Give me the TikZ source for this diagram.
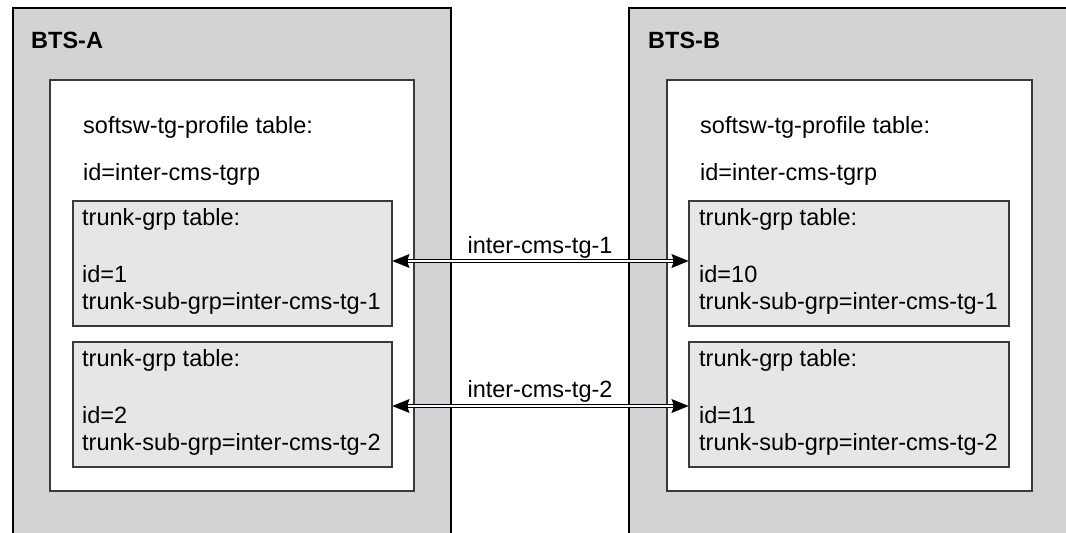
\documentclass[tikz,border=0pt]{standalone}
\usepackage{fontspec}
\setmainfont{Liberation Sans}
\usetikzlibrary{arrows.meta}
\definecolor{outergray}{HTML}{D2D3D5}
\definecolor{trunkgray}{HTML}{E5E6E7}
\definecolor{edgegray}{HTML}{3A3A3A}
\tikzset{
  txt/.style={anchor=base west, inner sep=0pt, font=\fontsize{23.5}{28}\selectfont},
  ttl/.style={anchor=base west, inner sep=0pt, font=\fontsize{23.5}{28}\selectfont\bfseries},
  lbl/.style={anchor=base, inner sep=0pt, font=\fontsize{23.5}{28}\selectfont},
  whitebox/.style={draw=edgegray, line width=1.1pt, fill=white, anchor=north west, inner sep=0pt, outer sep=0pt, minimum width=364pt, minimum height=411pt},
  tbox/.style={draw=edgegray, line width=1.1pt, fill=trunkgray, anchor=north west, inner sep=0pt, outer sep=0pt, minimum width=319pt, minimum height=125pt},
  linkarrow/.style={line width=4.2pt, {Stealth[length=17pt,width=13pt,inset=2pt]}-{Stealth[length=17pt,width=13pt,inset=2pt]}},
  linkinner/.style={white, line width=1.6pt, shorten <=16pt, shorten >=16pt}
}
\begin{document}
\begin{tikzpicture}[x=1pt,y=-1pt]
\useasboundingbox (0,0) rectangle (1066,533);
\clip (0,0) rectangle (1066,533);
\fill[white] (0,0) rectangle (1066,533);
% outer BTS boxes (open at the bottom / right)
\fill[outergray] (13,8) rectangle (451,540);
\draw[line width=2pt] (13,540) -- (13,8) -- (451,8) -- (451,540);
\fill[outergray] (629,8) rectangle (1070,540);
\draw[line width=2pt] (629,540) -- (629,8) -- (1070,8);
\node[ttl] (btsa) at (31,48) {BTS-A};
\node[ttl] (btsb) at (648,48) {BTS-B};
% inner white boxes
\node[whitebox] (wa) at (50,80) {};
\node[whitebox, minimum width=365pt] (wb) at (667,80) {};
\node[txt] (sa1) at (83,133) {softsw-tg-profile table:};
\node[txt] (sa2) at (83,180) {id=inter-cms-tgrp};
\node[txt] (sb1) at (700,133) {softsw-tg-profile table:};
\node[txt] (sb2) at (700,180) {id=inter-cms-tgrp};
% trunk boxes
\node[tbox] (t1a) at (73,201) {};
\node[tbox] (t2a) at (73,342) {};
\node[tbox, minimum width=320pt] (t1b) at (689,201) {};
\node[tbox, minimum width=320pt] (t2b) at (689,342) {};
\node[txt] (t1a1) at (82,225) {trunk-grp table:};
\node[txt] (t1a2) at (82,282) {id=1};
\node[txt] (t1a3) at (82,309) {trunk-sub-grp=inter-cms-tg-1};
\node[txt] (t2a1) at (82,366) {trunk-grp table:};
\node[txt] (t2a2) at (82,423) {id=2};
\node[txt] (t2a3) at (82,450) {trunk-sub-grp=inter-cms-tg-2};
\node[txt] (t1b1) at (699,225) {trunk-grp table:};
\node[txt] (t1b2) at (699,282) {id=10};
\node[txt] (t1b3) at (699,309) {trunk-sub-grp=inter-cms-tg-1};
\node[txt] (t2b1) at (699,366) {trunk-grp table:};
\node[txt] (t2b2) at (699,423) {id=11};
\node[txt] (t2b3) at (699,450) {trunk-sub-grp=inter-cms-tg-2};
% links
\coordinate (ya) at (0,261);
\coordinate (yb) at (0,406);
\draw[linkarrow] (t1a.east |- ya) -- (t1b.west |- ya);
\draw[linkinner] (t1a.east |- ya) -- (t1b.west |- ya);
\draw[linkarrow] (t2a.east |- yb) -- (t2b.west |- yb);
\draw[linkinner] (t2a.east |- yb) -- (t2b.west |- yb);
\node[lbl] (l1) at (540,253) {inter-cms-tg-1};
\node[lbl] (l2) at (540,397) {inter-cms-tg-2};
\end{tikzpicture}
\end{document}
